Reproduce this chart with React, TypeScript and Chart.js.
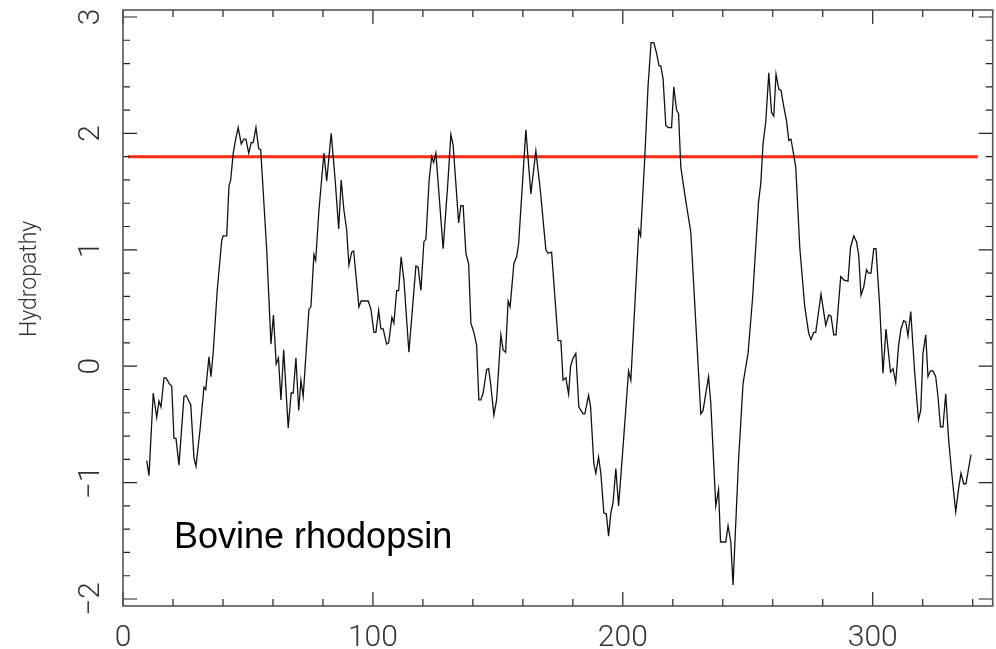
import React, { useEffect, useRef } from 'react';
import { Chart, registerables } from 'chart.js';

Chart.register(...registerables);

// Residue positions (x) and hydropathy values (y)
const residueX = [
  9.5, 10.4, 12.1, 13.5, 14.4, 15.2, 16.4, 17.2, 18.5, 19.5, 20.4, 21.2, 22.4, 24.4, 25.2, 27.1, 28.4, 29.2, 30.8, 32.4,
  33.1, 34.4, 35.2, 36.1, 37.7, 39.5, 40.1, 41.5, 42.4, 43.1, 44.1, 45.1, 46.1, 47.3, 48.4, 49.2, 50.3, 51.3, 52.1, 53.2,
  54.3, 55.1, 57.5, 59.2, 60.2, 61.3, 62.2, 63.2, 64.3, 66.1, 67.3, 68.1, 69.2, 70.3, 71.2, 72.1, 74.4, 75.2, 76.4, 77.1,
  78.4, 80.4, 81.5, 83.3, 84.9, 86.3, 87.3, 88.4, 89.5, 90.4, 91.5, 92.3, 94.4, 95.3, 98.1, 99.2, 100.4, 101.2, 102.3, 103.2,
  104.1, 105.5, 106.3, 107.6, 108.4, 109.5, 110.3, 111.3, 112.4, 114.4, 117.2, 118.1, 119.2, 120.4, 121.2, 122.5, 123.5, 124.3, 125.2, 128.1,
  130.0, 131.2, 132.1, 134.3, 135.2, 136.1, 137.2, 138.3, 139.2, 140.4, 141.5, 142.4, 143.2, 144.1, 145.5, 146.3, 147.1, 148.4, 149.5, 151.2,
  152.1, 153.1, 154.1, 154.9, 156.4, 157.5, 158.3, 161.2, 163.2, 165.2, 167.0, 169.2, 170.1, 171.5, 174.1, 175.2, 176.1, 177.2, 178.3, 179.1,
  180.1, 181.2, 182.4, 184.1, 184.8, 186.3, 187.1, 188.4, 189.2, 190.3, 191.2, 192.4, 193.4, 194.3, 195.2, 196.1, 197.2, 198.3, 200.1, 202.3,
  203.2, 206.4, 207.1, 208.8, 210.1, 211.3, 212.4, 213.5, 214.5, 215.2, 216.1, 217.2, 218.1, 219.5, 220.4, 221.5, 222.3, 223.2, 225.2, 227.2,
  231.2, 232.1, 234.3, 235.2, 237.2, 238.3, 239.1, 241.2, 242.1, 243.2, 244.1, 246.3, 248.1, 250.1, 251.9, 254.3, 255.2, 256.1, 257.2, 258.4,
  259.5, 260.4, 261.3, 262.4, 263.3, 264.4, 265.5, 266.4, 267.3, 269.2, 270.8, 272.8, 274.4, 275.3, 276.4, 277.2, 279.3, 281.2, 282.4, 283.3,
  284.4, 285.3, 287.2, 288.5, 290.1, 291.1, 292.4, 293.5, 294.4, 295.3, 296.4, 297.5, 298.3, 299.3, 300.4, 301.3, 302.8, 304.1, 305.3, 307.1,
  308.1, 309.2, 310.3, 311.3, 312.4, 313.2, 314.1, 315.2, 316.8, 318.3, 319.2, 320.1, 321.2, 322.1, 323.1, 324.1, 325.2, 326.1, 327.1, 328.1,
  329.2, 330.4, 331.6, 333.2, 334.3, 335.3, 336.4, 337.3, 339.3,
];

const hydropathy = [
  -0.81, -0.94, -0.23, -0.44, -0.30, -0.35, -0.10, -0.10, -0.15, -0.17, -0.62, -0.62, -0.85, -0.26, -0.25, -0.33, -0.79, -0.86, -0.55, -0.18,
  -0.20, 0.08, -0.09, 0.12, 0.65, 1.08, 1.12, 1.12, 1.55, 1.60, 1.83, 1.95, 2.05, 1.91, 1.95, 1.95, 1.83, 1.92, 1.92, 2.05,
  1.87, 1.86, 1.00, 0.19, 0.44, 0.02, 0.07, -0.29, 0.14, -0.53, -0.23, -0.23, 0.07, -0.38, -0.12, -0.26, 0.49, 0.51, 0.96, 0.91,
  1.34, 1.83, 1.59, 2.00, 1.60, 1.18, 1.60, 1.34, 1.17, 0.87, 0.98, 0.99, 0.51, 0.56, 0.56, 0.49, 0.29, 0.29, 0.48, 0.32,
  0.32, 0.19, 0.20, 0.42, 0.37, 0.65, 0.65, 0.94, 0.74, 0.12, 0.86, 0.85, 0.65, 1.07, 1.09, 1.60, 1.80, 1.75, 1.83, 1.01,
  1.58, 1.99, 1.90, 1.23, 1.38, 1.38, 0.97, 0.88, 0.37, 0.29, 0.18, -0.29, -0.29, -0.23, -0.03, -0.02, -0.15, -0.42, -0.29, 0.27,
  0.14, 0.12, 0.56, 0.51, 0.88, 0.94, 1.05, 2.03, 1.48, 1.85, 1.51, 1.00, 0.97, 0.98, 0.22, 0.22, -0.12, -0.10, -0.24, 0.00,
  0.07, 0.11, -0.35, -0.41, -0.41, -0.25, -0.35, -0.84, -0.92, -0.78, -0.92, -1.26, -1.27, -1.46, -1.26, -1.17, -0.88, -1.20, -0.69, -0.04,
  -0.12, 1.17, 1.12, 1.80, 2.41, 2.78, 2.78, 2.69, 2.58, 2.58, 2.47, 2.07, 2.05, 2.05, 2.40, 2.20, 2.17, 1.71, 1.42, 1.15,
  -0.41, -0.38, -0.09, -0.32, -1.20, -1.06, -1.51, -1.51, -1.37, -1.51, -1.88, -0.81, -0.15, 0.11, 0.58, 1.41, 1.57, 1.91, 2.10, 2.52,
  2.18, 2.15, 2.51, 2.38, 2.37, 2.23, 2.11, 1.94, 1.95, 1.71, 1.02, 0.51, 0.28, 0.23, 0.29, 0.29, 0.62, 0.35, 0.44, 0.43,
  0.27, 0.27, 0.77, 0.74, 0.73, 1.02, 1.12, 1.07, 0.95, 0.61, 0.68, 0.83, 0.80, 0.80, 1.01, 1.01, 0.51, -0.06, 0.32, -0.05,
  -0.02, -0.14, 0.17, 0.32, 0.39, 0.38, 0.26, 0.47, -0.06, -0.46, -0.38, 0.11, 0.27, -0.09, -0.04, -0.04, -0.09, -0.26, -0.52, -0.52,
  -0.24, -0.64, -0.92, -1.25, -1.06, -0.92, -1.01, -1.01, -0.76,
];

// Threshold line
const thresholdValue = 1.8;
const thresholdStart = 2;
const thresholdEnd = 342;

// Axis ranges and ticks
const xMin = 0;
const xMax = 348;
const yMin = -2.06;
const yMax = 3.06;
const xMajorTicks = [0, 100, 200, 300];
const xMinorTicks = [20, 40, 60, 80, 120, 140, 160, 180, 220, 240, 260, 280, 320, 340];
const yMajorTicks = [-2, -1, 0, 1, 2, 3];
const yMinorTicks = [-1.8, -1.6, -1.4, -1.2, -0.8, -0.6, -0.4, -0.2, 0.2, 0.4, 0.6, 0.8, 1.2, 1.4, 1.6, 1.8, 2.2, 2.4, 2.6, 2.8];

const yAxisTitle = 'Hydropathy';
const yTitleAt = 0.75;
const annotationText = 'Bovine rhodopsin';
const annotationX = 20.4;
const annotationY = -1.56;

const fmt = (v: number) => (v < 0 ? '\u2212' + Math.abs(v) : String(v));

const framePlugin = {
  id: 'frameTicks',
  afterDatasetsDraw(chart: any) {
    const { ctx, chartArea } = chart;
    const xs = chart.scales.x;
    const ys = chart.scales.y;
    const { left, right, top, bottom } = chartArea;
    ctx.save();
    ctx.strokeStyle = '#222';
    ctx.lineWidth = 1.2;
    ctx.beginPath();
    const major = 14;
    const minor = 7;
    const xt = (vals: number[], len: number) => {
      vals.forEach((v) => {
        const px = xs.getPixelForValue(v);
        ctx.moveTo(px, bottom);
        ctx.lineTo(px, bottom - len);
        ctx.moveTo(px, top);
        ctx.lineTo(px, top + len);
      });
    };
    const yt = (vals: number[], len: number) => {
      vals.forEach((v) => {
        const py = ys.getPixelForValue(v);
        ctx.moveTo(left, py);
        ctx.lineTo(left + len, py);
        ctx.moveTo(right, py);
        ctx.lineTo(right - len, py);
      });
    };
    xt(xMajorTicks, major);
    xt(xMinorTicks, minor);
    yt(yMajorTicks, major);
    yt(yMinorTicks, minor);
    ctx.stroke();
    ctx.strokeStyle = '#555';
    ctx.lineWidth = 1.6;
    ctx.strokeRect(left, top, right - left, bottom - top);

    ctx.fillStyle = '#000';
    ctx.font = '36px "Liberation Sans", Arial, sans-serif';
    ctx.textAlign = 'left';
    ctx.textBaseline = 'alphabetic';
    ctx.fillText(annotationText, xs.getPixelForValue(annotationX), ys.getPixelForValue(annotationY));

    ctx.translate(30, ys.getPixelForValue(yTitleAt));
    ctx.rotate(-Math.PI / 2);
    ctx.font = '300 23px Roboto, "DejaVu Sans", sans-serif';
    ctx.fillStyle = '#333';
    ctx.textAlign = 'center';
    ctx.textBaseline = 'middle';
    ctx.fillText(yAxisTitle, 0, 0);
    ctx.restore();
  },
};

export default function App() {
  const ref = useRef<HTMLCanvasElement | null>(null);
  useEffect(() => {
    if (!ref.current) return;
    const tickFont = { family: 'Roboto, "DejaVu Sans", sans-serif', size: 30, weight: '300' as any };
    const chart = new Chart(ref.current, {
      type: 'line',
      data: {
        datasets: [
          {
            data: residueX.map((x, i) => ({ x, y: hydropathy[i] })),
            borderColor: '#111',
            borderWidth: 1.3,
            pointRadius: 0,
            tension: 0,
            fill: false,
          },
          {
            data: [
              { x: thresholdStart, y: thresholdValue },
              { x: thresholdEnd, y: thresholdValue },
            ],
            borderColor: '#ff2a10',
            borderWidth: 3,
            pointRadius: 0,
            fill: false,
          },
        ],
      },
      options: {
        animation: false,
        responsive: true,
        maintainAspectRatio: false,
        layout: { padding: { top: 10, right: 3.3, left: 0, bottom: 0 } },
        plugins: { legend: { display: false }, tooltip: { enabled: false } },
        scales: {
          x: {
            type: 'linear',
            min: xMin,
            max: xMax,
            grid: { display: false },
            border: { display: false },
            afterBuildTicks: (axis: any) => {
              axis.ticks = xMajorTicks.map((v) => ({ value: v }));
            },
            afterFit: (axis: any) => {
              axis.height = 43;
              axis.paddingLeft = 0;
              axis.paddingRight = 0;
            },
            ticks: {
              font: tickFont,
              color: '#333',
              padding: 6,
              maxRotation: 0,
              minRotation: 0,
              autoSkip: false,
              callback: (v: any) => fmt(Number(v)),
            },
          },
          y: {
            type: 'linear',
            min: yMin,
            max: yMax,
            grid: { display: false },
            border: { display: false },
            afterBuildTicks: (axis: any) => {
              axis.ticks = yMajorTicks.map((v) => ({ value: v }));
            },
            afterFit: (axis: any) => {
              axis.width = 123;
              axis.paddingTop = 0;
              axis.paddingBottom = 0;
            },
            ticks: {
              font: tickFont,
              color: '#333',
              padding: 7,
              minRotation: 90,
              maxRotation: 90,
              crossAlign: 'center',
              autoSkip: false,
              callback: (v: any) => fmt(Number(v)),
            },
          },
        },
      },
      plugins: [framePlugin],
    });
    return () => chart.destroy();
  }, []);
  return (
    <div style={{ position: 'fixed', left: 0, top: 0, width: 996, height: 649, background: '#fff' }}>
      <canvas ref={ref} />
    </div>
  );
}
